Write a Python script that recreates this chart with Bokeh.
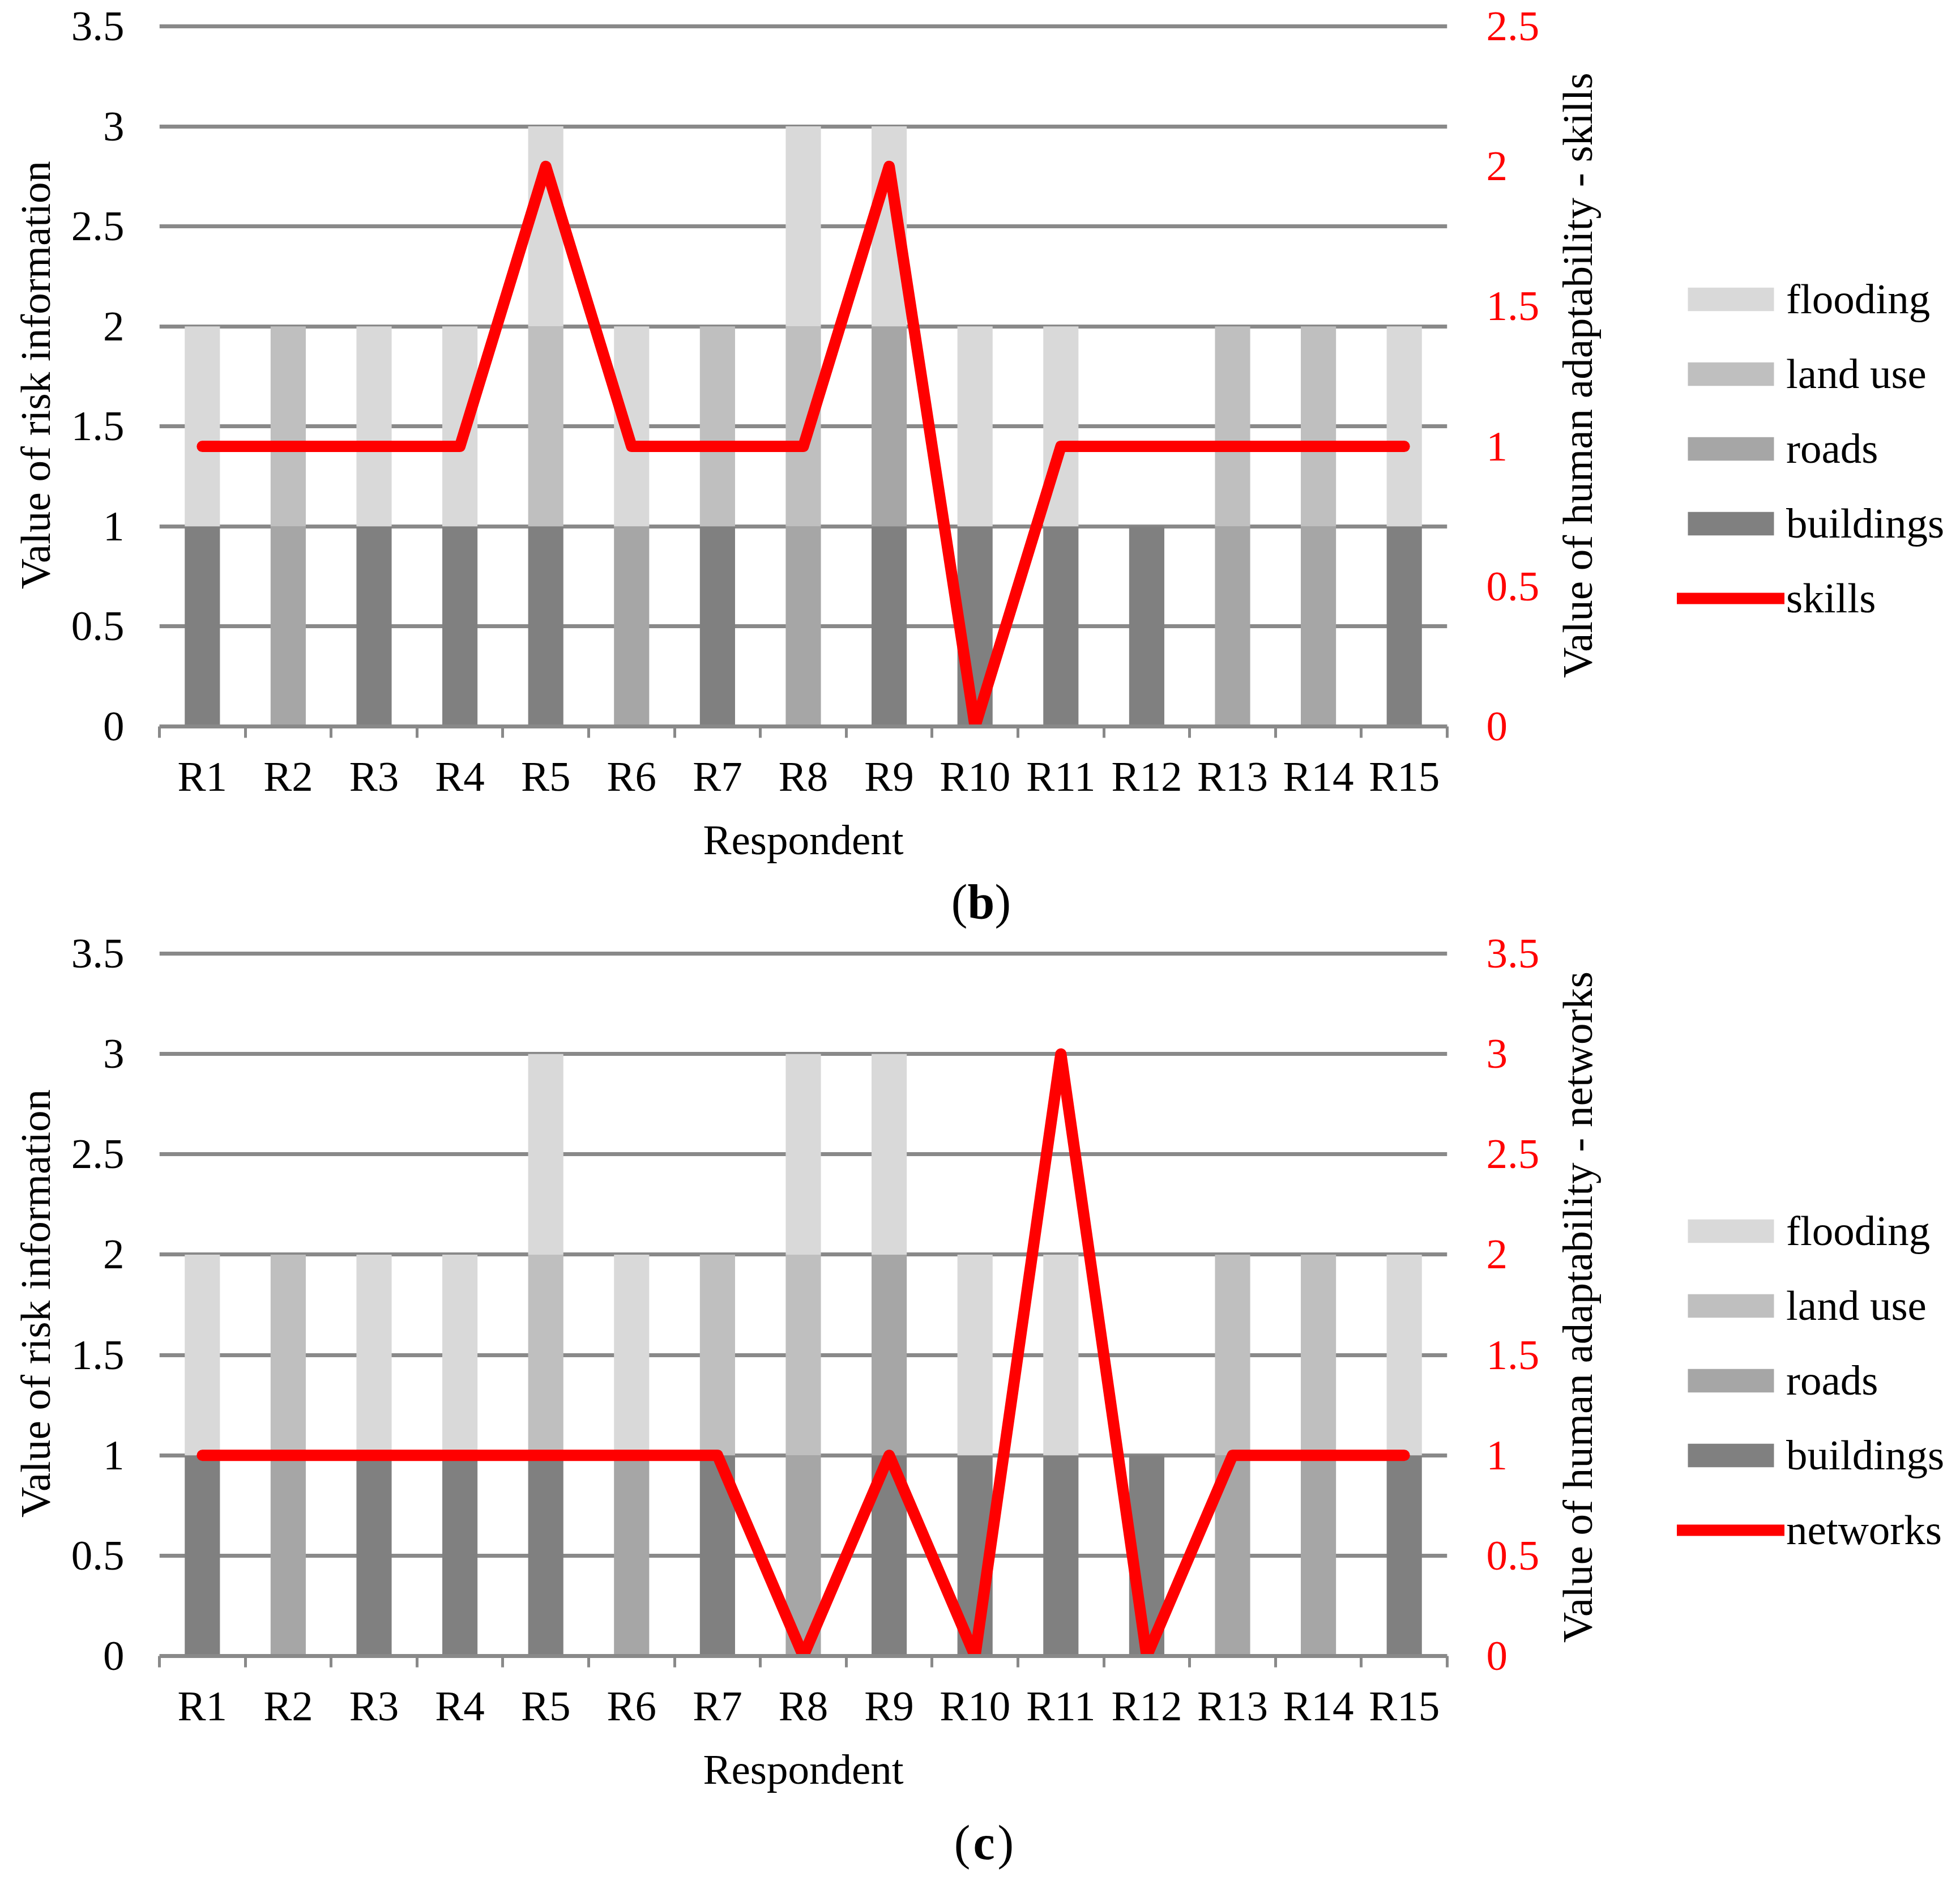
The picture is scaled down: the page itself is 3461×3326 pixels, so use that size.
import math
from bokeh.plotting import figure
from bokeh.models import (Range1d, LinearAxis, FixedTicker, NumeralTickFormatter,
                          Legend, LegendItem, Label, ColumnDataSource)
from bokeh.layouts import column, row
from bokeh.embed import file_html
from bokeh.resources import INLINE

# ---------------- data ----------------
respondents = ["R1", "R2", "R3", "R4", "R5", "R6", "R7", "R8", "R9", "R10",
               "R11", "R12", "R13", "R14", "R15"]
buildings = [1, 0, 1, 1, 1, 0, 1, 0, 1, 1, 1, 1, 0, 0, 1]
roads     = [0, 1, 0, 0, 0, 1, 0, 1, 1, 0, 0, 0, 1, 1, 0]
land_use  = [0, 1, 0, 0, 1, 0, 1, 1, 0, 0, 0, 0, 1, 1, 0]
flooding  = [1, 0, 1, 1, 1, 1, 0, 1, 1, 1, 1, 0, 0, 0, 1]
skills    = [1, 1, 1, 1, 2, 1, 1, 1, 2, 0, 1, 1, 1, 1, 1]
networks  = [1, 1, 1, 1, 1, 1, 1, 0, 1, 0, 3, 0, 1, 1, 1]
left_ticks = [0, 0.5, 1, 1.5, 2, 2.5, 3, 3.5]
skills_ticks = [0, 0.5, 1, 1.5, 2, 2.5]
networks_ticks = [0, 0.5, 1, 1.5, 2, 2.5, 3, 3.5]

FONT = "Liberation Serif"
FS = "75px"
GRID = "#898989"
RED = "#ff0000"
COLORS = ["#808080", "#a6a6a6", "#bfbfbf", "#d9d9d9"]
STACK = ["buildings", "roads", "land_use", "flooding"]
W = 3445
WA = 2737          # width of the chart figure (frame + axes)
WB = W - WA        # width of the side figure (right title + legend)
TOP_PAD = 5        # px above the top gridline so that it is not clipped


def base_fig(width, height, **kw):
    f = figure(width=width, height=height, output_backend="svg",
               toolbar_location=None, title=None, **kw)
    f.frame_align = False
    f.outline_line_color = None
    f.background_fill_color = "white"
    f.border_fill_color = "white"
    return f


def make_panel(line_values, line_name, right_ticks, right_title,
               height, border_top, core_h):
    n = len(respondents)
    positions = list(range(1, n + 1))
    src = ColumnDataSource(dict(x=positions, buildings=buildings, roads=roads,
                                land_use=land_use, flooding=flooding,
                                line=line_values))
    frame_h = core_h + TOP_PAD
    k = frame_h / core_h
    p = base_fig(WA, height,
                 x_range=Range1d(0.5, n + 0.5),
                 y_range=Range1d(left_ticks[0], left_ticks[-1] * k),
                 min_border_left=281, min_border_right=WA - 281 - 2274,
                 min_border_top=border_top,
                 min_border_bottom=height - border_top - frame_h)
    p.extra_y_ranges = {"right": Range1d(right_ticks[0], right_ticks[-1] * k)}

    p.vbar_stack(STACK, x="x", width=0.41, fill_color=COLORS,
                 line_color=None, source=src)
    p.line("x", "line", source=src, y_range_name="right",
           line_color=RED, line_width=20, line_cap="round", line_join="round")

    # grid
    p.xgrid.visible = False
    p.ygrid.ticker = FixedTicker(ticks=left_ticks)
    p.ygrid.grid_line_color = GRID
    p.ygrid.grid_line_width = 7

    # x axis
    xa = p.xaxis[0]
    xa.ticker = FixedTicker(ticks=positions,
                            minor_ticks=[i + 0.5 for i in range(0, n + 1)])
    xa.major_label_overrides = dict(zip(positions, respondents))
    xa.axis_line_color = GRID
    xa.axis_line_width = 7
    xa.major_tick_line_color = None
    xa.major_tick_out = 0
    xa.major_tick_in = 0
    xa.minor_tick_line_color = GRID
    xa.minor_tick_line_width = 5
    xa.minor_tick_out = 20
    xa.minor_tick_in = 0
    xa.major_label_text_font = FONT
    xa.major_label_text_font_size = FS
    xa.major_label_text_color = "black"
    xa.major_label_standoff = 26
    xa.axis_label = "Respondent"
    xa.axis_label_text_font = FONT
    xa.axis_label_text_font_size = FS
    xa.axis_label_text_font_style = "normal"
    xa.axis_label_text_color = "black"
    xa.axis_label_standoff = 26

    # left axis
    ya = p.yaxis[0]
    ya.ticker = FixedTicker(ticks=left_ticks)
    ya.formatter = NumeralTickFormatter(format="0.[0]")
    ya.axis_line_color = None
    ya.major_tick_line_color = None
    ya.minor_tick_line_color = None
    ya.major_tick_out = 0
    ya.major_label_text_font = FONT
    ya.major_label_text_font_size = FS
    ya.major_label_text_color = "black"
    ya.major_label_standoff = 62
    ya.axis_label = "Value of risk information"
    ya.axis_label_text_font = FONT
    ya.axis_label_text_font_size = FS
    ya.axis_label_text_font_style = "normal"
    ya.axis_label_text_color = "black"
    ya.axis_label_standoff = 19

    # right axis (tick labels only; its title is drawn in the side figure)
    ra = LinearAxis(y_range_name="right", ticker=FixedTicker(ticks=right_ticks),
                    formatter=NumeralTickFormatter(format="0.[0]"))
    ra.axis_line_color = None
    ra.major_tick_line_color = None
    ra.minor_tick_line_color = None
    ra.major_tick_out = 0
    ra.major_label_text_font = FONT
    ra.major_label_text_font_size = FS
    ra.major_label_text_color = RED
    ra.major_label_standoff = 69
    p.add_layout(ra, "right")

    # side figure: right-axis title (reading upwards) + legend
    s = base_fig(WB, height, x_axis_type=None, y_axis_type=None,
                 x_range=Range1d(0, 1), y_range=Range1d(0, 1), min_border=0)
    s.grid.visible = False
    sb = s.vbar_stack(STACK, x="x", width=0.41, fill_color=COLORS,
                      line_color=None, source=src)
    sl = s.line("x", "line", source=src, line_color=RED, line_width=20,
                line_cap="round", line_join="round")
    for r in list(sb) + [sl]:
        r.visible = False
    s.add_layout(Label(x=48, y=875, x_units="screen", y_units="screen",
                       text=right_title, angle=math.pi / 2,
                       text_font=FONT, text_font_size=FS, text_color="black",
                       text_align="center", text_baseline="middle"))
    items = [LegendItem(label="flooding", renderers=[sb[3]]),
             LegendItem(label="land use", renderers=[sb[2]]),
             LegendItem(label="roads", renderers=[sb[1]]),
             LegendItem(label="buildings", renderers=[sb[0]]),
             LegendItem(label=line_name, renderers=[sl])]
    leg = Legend(items=items, location=(224, 438), orientation="vertical",
                 glyph_width=190, glyph_height=52, label_height=42,
                 spacing=46, padding=0, margin=0, label_standoff=3,
                 label_text_font=FONT, label_text_font_size=FS,
                 label_text_color="black", border_line_color=None,
                 background_fill_alpha=0)
    s.add_layout(leg)
    return row(p, s, spacing=0)


def make_caption(letter, height, cx, cy):
    c = base_fig(W, height, x_axis_type=None, y_axis_type=None,
                 x_range=Range1d(0, 1), y_range=Range1d(0, 1), min_border=0)
    c.grid.visible = False
    c.add_layout(Label(x=cx - 24, y=cy, x_units="screen", y_units="screen",
                       text="(", text_font=FONT, text_font_size="86px",
                       text_color="black",
                       text_align="right", text_baseline="middle"))
    c.add_layout(Label(x=cx, y=cy, x_units="screen", y_units="screen",
                       text=letter, text_font=FONT, text_font_size="86px",
                       text_font_style="bold", text_color="black",
                       text_align="center", text_baseline="middle"))
    c.add_layout(Label(x=cx + 24, y=cy, x_units="screen", y_units="screen",
                       text=")", text_font=FONT, text_font_size="86px",
                       text_color="black",
                       text_align="left", text_baseline="middle"))
    return c


panel_b = make_panel(skills, "skills", skills_ticks,
                     "Value of human adaptability - skills",
                     height=1537, border_top=41, core_h=1236)
cap_b = make_caption("b", 104, 1732, 50)
panel_c = make_panel(networks, "networks", networks_ticks,
                     "Value of human adaptability - networks",
                     height=1541, border_top=37, core_h=1240)
cap_c = make_caption("c", 128, 1737, 58)

layout = column(panel_b, cap_b, panel_c, cap_c, spacing=0)
open("out.html", "w").write(file_html(layout, INLINE))
